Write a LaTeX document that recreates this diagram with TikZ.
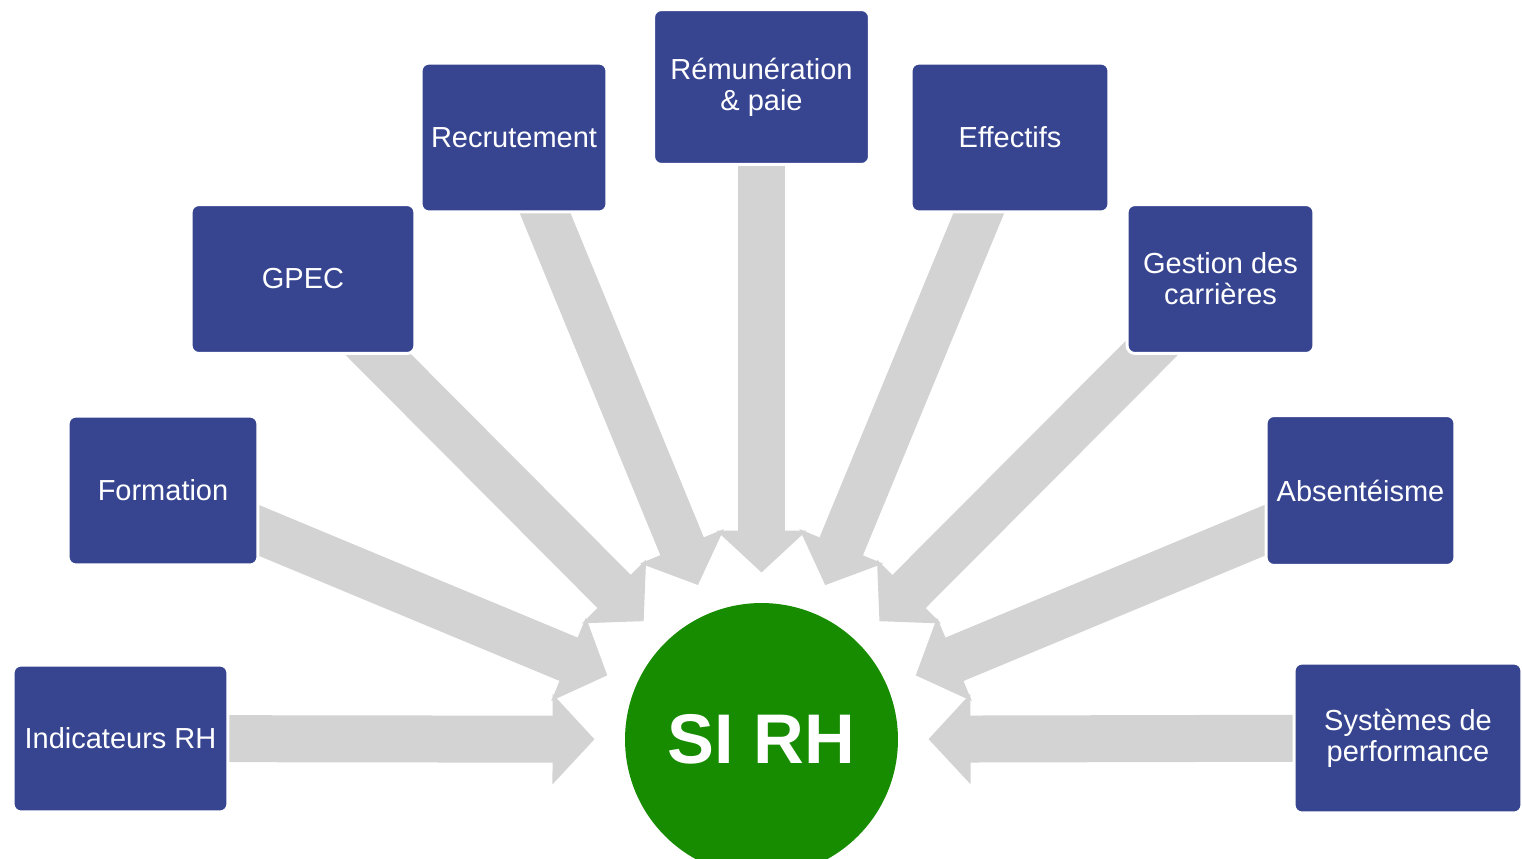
\documentclass[tikz,border=0pt]{standalone}
\usepackage{fontspec}
\setmainfont{Liberation Sans}
\usetikzlibrary{arrows.meta,calc,backgrounds}
\definecolor{boxblue}{RGB}{55,69,145}
\definecolor{sirhgreen}{RGB}{23,140,0}
\definecolor{feedgray}{RGB}{211,211,211}

\begin{document}
\begin{tikzpicture}[x=0.02cm,y=-0.02cm,
        theme/.style={rectangle,rounded corners=0.16cm,fill=boxblue,draw=white,
            line width=0.06cm,text=white,align=center,inner sep=2pt,
            font=\fontsize{16.5}{17.6}\selectfont,minimum height=2.98cm},
        hub/.style={circle,fill=sirhgreen,text=white,minimum size=5.46cm,
            font=\fontsize{40}{40}\selectfont\bfseries},
        feed/.style={draw=feedgray,line width=0.94cm,
            -{Triangle[width=1.76cm,length=0.84cm]}}]

  \useasboundingbox (0,0) rectangle (1522,859);

  \node[hub] (sirh) at (761.5,739.5) {SI RH};

  \node[theme] (ind)  at (120.5,738.5) [minimum width=4.3cm,minimum height=2.94cm] {Indicateurs RH};
  \node[theme] (form) at (163,490.5)   [minimum width=3.8cm] {Formation};
  \node[theme] (gpec) at (303,279)     [minimum width=4.48cm] {GPEC};
  \node[theme] (recr) at (514,137.5)   [minimum width=3.72cm] {Recrutement};
  \node[theme] (rem)  at (761.5,87)    [minimum width=4.32cm,minimum height=3.1cm] {Rémunération\\\& paie};
  \node[theme] (eff)  at (1010,137.5)  [minimum width=3.96cm] {Effectifs};
  \node[theme] (gest) at (1220.5,279)  [minimum width=3.74cm] {Gestion des\\carrières};
  \node[theme] (abs)  at (1360.5,490.5) [minimum width=3.78cm,minimum height=3cm] {Absentéisme};
  \node[theme] (sys)  at (1408,738)    [minimum width=4.56cm,minimum height=3cm] {Systèmes de\\performance};

  \begin{scope}[on background layer]
    \foreach \b in {ind,form,gpec,recr,rem,eff,gest,abs,sys} {
      \coordinate (\b-tip) at ($(sirh.center)!3.34cm!(\b.center)$);
      \draw[feed] (\b.center) -- (\b-tip);
    }
  \end{scope}

\end{tikzpicture}
\end{document}
